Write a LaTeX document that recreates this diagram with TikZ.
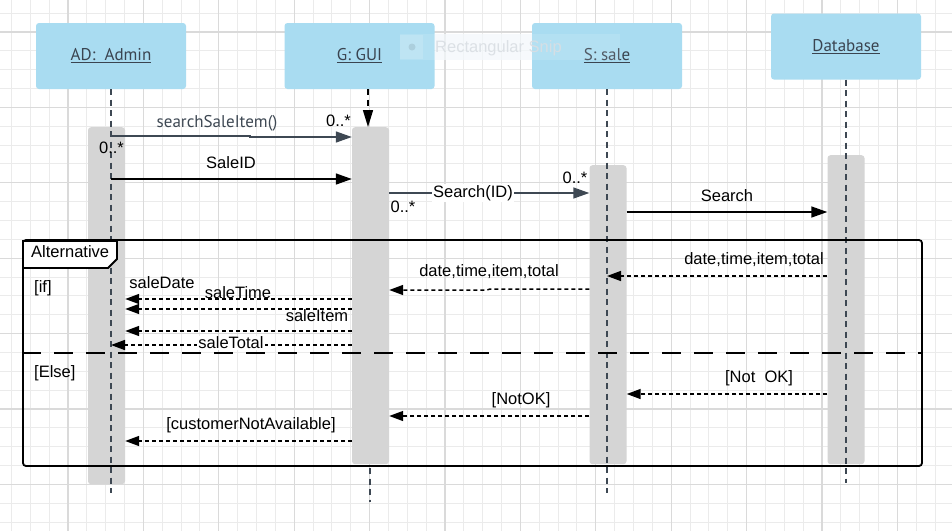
\documentclass[tikz,border=0pt]{standalone}
\usepackage{fontspec}
\setmainfont{Liberation Sans}
\newfontfamily\ptsans{PT Sans}
\usetikzlibrary{arrows.meta}
\definecolor{hdr}{HTML}{A9DCF1}
\definecolor{act}{HTML}{D5D5D5}
\definecolor{slate}{HTML}{3E4853}
\definecolor{gmin}{HTML}{EBEBEB}
\definecolor{gmaj}{HTML}{DADADA}
\definecolor{hdrtext}{HTML}{3A4450}
\definecolor{sniptext}{HTML}{D9DEE3}
\definecolor{snipbg}{HTML}{F3F8FB}
\begin{document}
\begin{tikzpicture}[x=1pt,y=-1pt,
  hdrbox/.style={fill=hdr, rounded corners=3pt, minimum width=150pt, minimum height=66pt, inner sep=0pt,
    font=\ptsans\fontsize{17}{20}\selectfont, text=hdrtext},
  actbox/.style={fill=act, rounded corners=3pt, minimum width=37pt, inner sep=0pt, anchor=north},
  lifeline/.style={draw=slate, line width=1.5pt, dash pattern=on 6pt off 4.5pt},
  msg/.style={line width=1.5pt, -{Triangle[length=16pt,width=11pt]}},
  ret/.style={line width=1.5pt, dash pattern=on 4pt off 3pt, -{Triangle[length=14pt,width=10pt]}},
  lbl/.style={font=\fontsize{16.5}{19}\selectfont, inner sep=1pt},
  wlbl/.style={lbl, fill=white},
]
\useasboundingbox (0,0) rectangle (952,531);
\fill[white] (0,0) rectangle (952,531);
% grid
\foreach \i in {0,...,50} \draw[gmin, line width=1pt] ({11.45+18.85*\i},0) -- ++(0,531);
\foreach \j in {0,...,29} \draw[gmin, line width=1pt] (0,{-5.7+18.85*\j}) -- ++(952,0);
\foreach \k in {0,...,11} \draw[gmaj, line width=1.3pt] ({68+75.4*\k},0) -- ++(0,531);
\foreach \k in {0,...,6} \draw[gmaj, line width=1.3pt] (0,{32+75.4*\k}) -- ++(952,0);

% headers
\node[hdrbox] (hA) at (111,56) {\underline{AD:\ \ Admin}};
\node[hdrbox] (hG) at (359.5,56) {\underline{G: GUI}};
\node[hdrbox] (hS) at (607,56) {\underline{S: sale}};
\node[hdrbox] (hD) at (846,46.5) {\underline{Database}};

% screen overlay artifact
\fill[snipbg, opacity=0.75] (435,34) rectangle (532,60);
\fill[white, opacity=0.12] (400,34) rectangle (435,60);
\fill[white, opacity=0.12] (532,34) rectangle (620,60);
\fill[white, opacity=0.15] (400,35) rectangle (423,59);
\fill[hdr!60!gray, opacity=0.45] (412,47) circle (3.5pt);
\node[font=\fontsize{16.5}{19}\selectfont, text=sniptext, opacity=0.9, anchor=west, inner sep=0pt] (snip) at (435,48) {Rectangular Snip};

% activations
\node[actbox, minimum height=357pt] (aA) at (106.5,127) {};
\node[actbox, minimum height=337pt] (aG) at (370.5,127) {};
\node[actbox, minimum height=299pt] (aS) at (608,165) {};
\node[actbox, minimum height=309pt] (aD) at (846,155) {};

% lifelines
\coordinate (lAb) at (111,493);
\coordinate (lSb) at (607,493);
\coordinate (lDb) at (846,483);
\coordinate (lGt) at (368,127);
\coordinate (lGa) at (370,468);
\coordinate (lGb) at (370,502);
\draw[lifeline] (hA.south -| lAb) -- (lAb);
\draw[lifeline] (hS.south -| lSb) -- (lSb);
\draw[lifeline] (hD.south -| lDb) -- (lDb);
\draw[lifeline, draw=black, -{Triangle[length=17pt,width=10pt]}] (hG.south -| lGt) -- (lGt);
\draw[lifeline] (lGa) -- (lGb);

% frame
\node[draw, line width=1.8pt, rounded corners=3pt, minimum width=899pt, minimum height=226pt, inner sep=0pt] (frame) at (472.5,353) {};
\filldraw[fill=white, line width=1.8pt] (23,241) -- (117,241) -- (117,259) -- (108,268) -- (23,268) -- cycle;
\node[lbl, anchor=west] (alt) at (30,252) {Alternative};
\draw[line width=1.8pt, dash pattern=on 19pt off 13pt] (frame.west |- 0,353) -- (frame.east |- 0,353);
\node[lbl, anchor=west] (gif) at (33,288) {[if]};
\node[lbl, anchor=west] (gelse) at (33,373) {[Else]};

% messages
\draw[msg, draw=slate, fill=slate] (lAb |- 0,136) -- (250,136) -- (250,137) -- (aG.west |- 0,137);
\node[font=\ptsans\fontsize{17}{20}\selectfont, text=slate] (m1) at (217,123) {searchSaleItem()};
\node[lbl] (m1a) at (111.5,148) {0..*};
\node[lbl] (m1b) at (338.5,121) {0..*};

\draw[msg] (lAb |- 0,179) -- (aG.west |- 0,179);
\node[lbl] (m2) at (231,163) {SaleID};

\draw[msg, draw=slate, fill=slate] (aG.east |- 0,193) -- (aS.west |- 0,193);
\node[wlbl] (m3) at (473,193) {Search(ID)};
\node[lbl] (m3a) at (403,207) {0..*};
\node[lbl] (m3b) at (575,178) {0..*};

\draw[msg] (aS.east |- 0,212) -- (aD.west |- 0,212);
\node[lbl] (m4) at (727,196) {Search};

% returns
\draw[ret] (aD.west |- 0,276) -- (lSb |- 0,276);
\node[lbl] (r1) at (754,260) {date,time,item,total};

\draw[ret] (aS.west |- 0,289) -- (490,289) -- (487,290) -- (aG.east |- 0,290);
\node[lbl] (r2) at (489,272) {date,time,item,total};

\draw[ret] (aG.west |- 0,299) -- (aA.east |- 0,299);
\node[lbl] (r3) at (162,283) {saleDate};
\draw[ret] (aG.west |- 0,309) -- (aA.east |- 0,309);
\node[lbl] (r4) at (238,293) {saleTime};
\draw[ret] (aG.west |- 0,331) -- (aA.east |- 0,331);
\node[lbl] (r5) at (317,316) {saleItem};
\draw[ret] (aG.west |- 0,345) -- (lAb |- 0,345);
\node[wlbl] (r6) at (231,343) {saleTotal};

\draw[ret] (aD.west |- 0,394) -- (aS.east |- 0,394);
\node[lbl] (r7) at (759,378) {[Not\ \ OK]};
\draw[ret] (aS.west |- 0,416) -- (aG.east |- 0,416);
\node[lbl] (r8) at (521,400) {[NotOK]};
\draw[ret] (aG.west |- 0,441) -- (aA.east |- 0,441);
\node[lbl] (r9) at (251,425) {[customerNotAvailable]};
\end{tikzpicture}
\end{document}
